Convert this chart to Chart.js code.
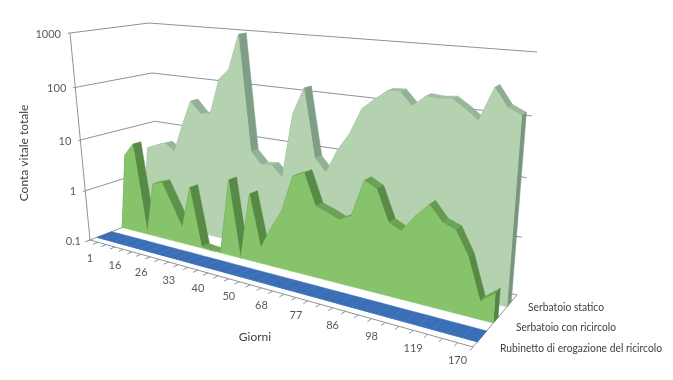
<!DOCTYPE html>
<html>
<head>
<meta charset="utf-8">
<title>Conta vitale totale</title>
<script src="https://cdn.jsdelivr.net/npm/chart.js@4"></script>
<style>
  body { margin: 0; background: #fff; }
  canvas { display: block; }
</style>
</head>
<body>
<canvas id="myChart" width="673" height="380"></canvas>
<script>
const dayLabels = ['1', '16', '26', '33', '40', '50', '68', '77', '86', '98', '119', '170'];
const valueTicks = [0.1, 1, 10, 100, 1000];
const seriesNames = ['Rubinetto di erogazione del ricircolo', 'Serbatoio con ricircolo', 'Serbatoio statico'];

const rubinetto = [0.1, 0.1, 0.1, 0.1, 0.1, 0.1, 0.1, 0.1, 0.1, 0.1, 0.1, 0.1, 0.1, 0.1, 0.1, 0.1, 0.1, 0.1,
    0.1, 0.1, 0.1, 0.1, 0.1, 0.1, 0.1, 0.1, 0.1, 0.1, 0.1, 0.1, 0.1, 0.1, 0.1, 0.1, 0.1];
const ricircolo = [0.1, 3.6, 6.4, 0.11, 1.2, 1.4, 0.55, 0.21, 1.45, 0.105, 0.1, 0.105, 2.9, 0.1, 1.9, 0.2, 0.53, 1.24,
    5.8, 7.2, 2, 1.7, 1.4, 1.8, 8.3, 6.4, 1.9, 1.5, 3, 5.2, 2.9, 2.4, 0.96, 0.2, 0.31];
const statico = [0.1, 3.7, 4.5, 5.3, 3.9, 13.8, 45, 27, 28, 140, 225, 1000, 7.1, 4.3, 4.6, 2.9, 48, 145,
    8.5, 5, 13.8, 29, 85, 130, 190, 195, 118, 182, 175, 184, 134, 93, 330, 168, 135];

// every third category carries a label
const categories = statico.map((v, i) => (i % 3 === 0 ? dayLabels[i / 3] : ''));

// corners of the 3d box as seen on the page
const box = {
    frontLeft: [[90, 240], [70, 33]],
    frontRight: [[473, 347], [490, 82]],
    backLeft: [[160, 213], [149, 23]],
    backRight: [[517, 295], [537, 52]]
};
const lerp = (a, b, k) => [a[0] + (b[0] - a[0]) * k, a[1] + (b[1] - a[1]) * k];

function project(u, v, w) {
    const a = 0.72 + 0.08 * w;
    const t = a * u / (1 - (1 - a) * u);
    const f = 0.934 * v / (1 - 0.066 * v);
    const base = lerp(lerp(box.frontLeft[0], box.frontRight[0], t), lerp(box.backLeft[0], box.backRight[0], t), w);
    const top = lerp(lerp(box.frontLeft[1], box.frontRight[1], t), lerp(box.backLeft[1], box.backRight[1], t), w);
    return lerp(base, top, f);
}

function polygon(ctx, pts, color) {
    ctx.beginPath();
    pts.forEach((p, i) => (i ? ctx.lineTo(p[0], p[1]) : ctx.moveTo(p[0], p[1])));
    ctx.closePath();
    ctx.fillStyle = color;
    ctx.strokeStyle = color;
    ctx.lineWidth = 0.5;
    ctx.fill();
    ctx.stroke();
}

function segment(ctx, a, b) {
    ctx.beginPath();
    ctx.moveTo(a[0], a[1]);
    ctx.lineTo(b[0], b[1]);
    ctx.stroke();
}

function mixColor(c1, c2, k) {
    return 'rgb(' + c1.map((c, i) => Math.round(c + (c2[i] - c) * k)).join(',') + ')';
}

const box3d = {
    id: 'box3d',
    beforeDatasetsDraw(chart) {
        const ctx = chart.ctx;
        const y = chart.scales.y;
        const x = chart.scales.x;
        const area = chart.chartArea;
        ctx.save();
        ctx.strokeStyle = '#8b949b';
        ctx.lineWidth = 1;
        valueTicks.forEach(tick => {
            const v = (area.bottom - y.getPixelForValue(tick)) / area.height;
            segment(ctx, project(0, v, -0.03), project(0, v, 1));
            segment(ctx, project(0, v, 1), project(1, v, 1));
        });
        segment(ctx, project(0, 0, 0), project(0, 1, 0));
        segment(ctx, project(0, 0, 0), project(1, 0, 0));
        segment(ctx, project(1, 0, 0), project(1, 0, 1));
        categories.forEach((c, i) => {
            const u = (x.getPixelForValue(i) - area.left) / area.width;
            segment(ctx, project(u, 0, 0), project(u, 0, -0.07));
        });
        ctx.restore();
    },
    beforeDatasetDraw(chart, args) {
        const ctx = chart.ctx;
        const area = chart.chartArea;
        const opt = chart.data.datasets[args.index].look;
        const pts = args.meta.data.map(el => [(el.x - area.left) / area.width, (area.bottom - el.y) / area.height]);
        const front = pts.map(p => project(p[0], p[1], opt.w0));
        const back = pts.map(p => project(p[0], p[1], opt.w1));
        ctx.save();
        // top of the extruded ribbon, shaded by how steep each piece is
        for (let i = 0; i < pts.length - 1; i++) {
            const slope = Math.abs((front[i + 1][1] - front[i][1]) / (front[i + 1][0] - front[i][0]));
            const shade = Math.min(1, slope / 3);
            polygon(ctx, [front[i], front[i + 1], back[i + 1], back[i]], mixColor(opt.light, opt.dark, shade));
        }
        const last = pts.length - 1;
        polygon(ctx, [front[last], back[last], project(1, 0, opt.w1), project(1, 0, opt.w0)], mixColor(opt.dark, [60, 80, 60], 0.1));
        // front face down to the floor
        polygon(ctx, [project(0, 0, opt.w0)].concat(front, [project(1, 0, opt.w0)]), opt.face);
        ctx.restore();
    },
    afterDatasetsDraw(chart) {
        const ctx = chart.ctx;
        const x = chart.scales.x;
        const y = chart.scales.y;
        const area = chart.chartArea;
        ctx.save();
        ctx.textBaseline = 'middle';
        ctx.font = '11px Lato';
        ctx.fillStyle = '#595959';
        ctx.textAlign = 'right';
        valueTicks.forEach(tick => {
            const v = (area.bottom - y.getPixelForValue(tick)) / area.height;
            const p = project(0, v, 0);
            ctx.fillText(String(tick), p[0] - 9, p[1] + 1);
        });
        ctx.textAlign = 'center';
        categories.forEach((c, i) => {
            if (!c) return;
            const u = (x.getPixelForValue(i) - area.left) / area.width;
            const p = project(u, 0, 0);
            ctx.fillText(c, p[0], p[1] + 18);
        });
        ctx.font = '12px Lato';
        ctx.fillStyle = '#404040';
        ctx.fillText('Giorni', 255, 337);
        ctx.textAlign = 'left';
        // the original face is narrower than Lato, squeeze to its widths
        ctx.fillText(seriesNames[2], 528, 307, 76);
        ctx.fillText(seriesNames[1], 516, 327, 100);
        ctx.fillText(seriesNames[0], 500, 348, 162);
        ctx.translate(24, 153);
        ctx.rotate(-Math.PI / 2);
        ctx.textAlign = 'center';
        ctx.fillText('Conta vitale totale', 0, 0);
        ctx.restore();
    }
};

const myChart = new Chart(document.getElementById('myChart'), {
    type: 'line',
    data: {
        labels: categories,
        datasets: [
            { label: seriesNames[0], data: rubinetto, showLine: false, pointRadius: 0,
              look: { w0: 0.1, w1: 0.31, face: '#3a6fb7', light: [58, 111, 183], dark: [58, 111, 183] } },
            { label: seriesNames[1], data: ricircolo, showLine: false, pointRadius: 0,
              look: { w0: 0.46, w1: 0.57, face: '#87c36a', light: [112, 170, 90], dark: [87, 138, 69] } },
            { label: seriesNames[2], data: statico, showLine: false, pointRadius: 0,
              look: { w0: 0.77, w1: 0.87, face: '#b5d2b0', light: [160, 192, 160], dark: [126, 158, 134] } }
        ]
    },
    options: {
        responsive: false,
        animation: false,
        layout: { padding: 0 },
        plugins: { legend: { display: false }, tooltip: { enabled: false } },
        scales: {
            x: { type: 'category', display: false, offset: false },
            y: { type: 'logarithmic', display: false, min: 0.1, max: 1000 }
        }
    },
    plugins: [box3d]
});
</script>
</body>
</html>
